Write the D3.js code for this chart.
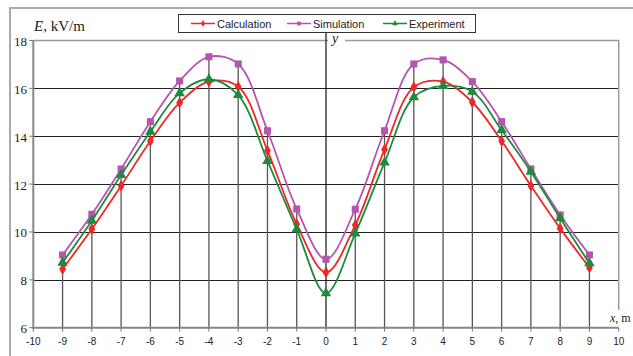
<!DOCTYPE html>
<html>
<head>
<meta charset="utf-8">
<script src="https://cdn.jsdelivr.net/npm/d3@7"></script>
<style>
  body { margin: 0; background: #fff; }
  svg { display: block; }
</style>
</head>
<body>
<div id="chart"></div>
<script>
var width = 633;
var height = 356;

// data
var xs = [-9, -8, -7, -6, -5, -4, -3, -2, -1, 0, 1, 2, 3, 4, 5, 6, 7, 8, 9];
var calculation = [8.45, 10.12, 11.93, 13.80, 15.40, 16.28, 16.07, 13.40, 10.33, 8.31, 10.29, 13.45, 16.05, 16.28, 15.42, 13.80, 11.93, 10.15, 8.51];
var simulation  = [9.04, 10.74, 12.63, 14.61, 16.31, 17.32, 17.02, 14.23, 10.96, 8.86, 10.95, 14.23, 17.02, 17.19, 16.28, 14.61, 12.63, 10.71, 9.04];
var experiment  = [8.72, 10.47, 12.38, 14.19, 15.80, 16.38, 15.72, 12.97, 10.11, 7.44, 9.94, 12.90, 15.63, 16.10, 15.86, 14.26, 12.52, 10.57, 8.69];
var xTicks = [-10, -9, -8, -7, -6, -5, -4, -3, -2, -1, 0, 1, 2, 3, 4, 5, 6, 7, 8, 9, 10];
var yTicks = [6, 8, 10, 12, 14, 16, 18];

var series = [
  {name: "Calculation", values: calculation, color: "#ee2828", symbol: d3.symbolDiamond, size: 40},
  {name: "Simulation", values: simulation, color: "#b455b2", symbol: d3.symbolSquare, size: 50},
  {name: "Experiment", values: experiment, color: "#1d8a3e", symbol: d3.symbolTriangle, size: 48}
];

var svg = d3.select("#chart")
            .append("svg")
            .attr("width", width)
            .attr("height", height);

// outer frame
svg.append("path")
   .attr("d", "M10," + height + "V8H" + width)
   .attr("fill", "none")
   .attr("stroke", "#aaa")
   .attr("stroke-width", 2);

var x = d3.scaleLinear()
          .domain([-10, 10])
          .range([33.3, 618.7]);

var y = d3.scaleLinear()
          .domain([6, 18])
          .range([327.7, 40.5]);

// horizontal grid
svg.selectAll(".hgrid")
   .data(yTicks.filter(function(d) { return d > 6 && d < 18; }))
   .enter()
   .append("line")
   .attr("x1", x(-10)).attr("x2", x(10))
   .attr("y1", function(d) { return Math.round(y(d)) + 0.5; })
   .attr("y2", function(d) { return Math.round(y(d)) + 0.5; })
   .attr("stroke", "#222")
   .attr("stroke-width", 1);

// top and right border
svg.append("path")
   .attr("d", "M" + x(-10) + "," + y(18) + "H" + x(10) + "V310")
   .attr("fill", "none")
   .attr("stroke", "#999")
   .attr("stroke-width", 1.5);

// drop lines from the highest point at each x
svg.selectAll(".drop")
   .data(xs.filter(function(d) { return d !== 0; }))
   .enter()
   .append("line")
   .attr("x1", function(d) { return x(d); })
   .attr("x2", function(d) { return x(d); })
   .attr("y1", function(d) {
     var k = xs.indexOf(d);
     return y(Math.max(calculation[k], simulation[k], experiment[k]));
   })
   .attr("y2", y(6))
   .attr("stroke", "#555")
   .attr("stroke-width", 1.3);

// y axis through x = 0
svg.append("line")
   .attr("x1", x(0)).attr("x2", x(0))
   .attr("y1", 33).attr("y2", y(6))
   .attr("stroke", "#111")
   .attr("stroke-width", 1.2);

// left and bottom axes
svg.append("path")
   .attr("d", "M" + x(-10) + "," + y(18) + "V" + y(6) + "H" + x(10))
   .attr("fill", "none")
   .attr("stroke", "#888")
   .attr("stroke-width", 2);

// ticks
svg.selectAll(".xtick")
   .data(xTicks)
   .enter()
   .append("line")
   .attr("x1", function(d) { return x(d); })
   .attr("x2", function(d) { return x(d); })
   .attr("y1", y(6)).attr("y2", y(6) + 4)
   .attr("stroke", "#777");

svg.selectAll(".ytick")
   .data(yTicks)
   .enter()
   .append("line")
   .attr("x1", x(-10) - 4).attr("x2", x(-10))
   .attr("y1", function(d) { return y(d); })
   .attr("y2", function(d) { return y(d); })
   .attr("stroke", "#777");

svg.selectAll(".xlab")
   .data(xTicks)
   .enter()
   .append("text")
   .attr("x", function(d) { return x(d); })
   .attr("y", 345)
   .attr("text-anchor", "middle")
   .attr("font-family", "Liberation Sans, Arial, sans-serif")
   .attr("font-size", 10)
   .attr("fill", "#222")
   .text(function(d) { return d; });

svg.selectAll(".ylab")
   .data(yTicks)
   .enter()
   .append("text")
   .attr("x", 27)
   .attr("y", function(d) { return y(d) + 5.5; })
   .attr("text-anchor", "end")
   .attr("font-family", "Liberation Serif, Times New Roman, serif")
   .attr("font-size", 13)
   .attr("fill", "#222")
   .text(function(d) { return d; });

// axis titles
var eLabel = svg.append("text")
   .attr("x", 34).attr("y", 30.5)
   .attr("font-family", "Liberation Serif, Times New Roman, serif")
   .attr("font-size", 15)
   .attr("fill", "#222");
eLabel.append("tspan").attr("font-style", "italic").text("E");
eLabel.append("tspan").text(", kV/m");

svg.append("rect")
   .attr("x", 328).attr("y", 33).attr("width", 17).attr("height", 14)
   .attr("fill", "#fff");
svg.append("text")
   .attr("x", 332).attr("y", 43)
   .attr("font-family", "Liberation Serif, Times New Roman, serif")
   .attr("font-style", "italic")
   .attr("font-size", 14)
   .attr("fill", "#222")
   .text("y");

var xLabel = svg.append("text")
   .attr("x", 610).attr("y", 322)
   .attr("font-family", "Liberation Serif, Times New Roman, serif")
   .attr("font-size", 12)
   .attr("fill", "#222");
xLabel.append("tspan").attr("font-style", "italic").text("x");
xLabel.append("tspan").text(", m");

// series
var line = d3.line()
             .x(function(d) { return x(d[0]); })
             .y(function(d) { return y(d[1]); })
             .curve(d3.curveCatmullRom.alpha(0.5));

series.forEach(function(s) {
  var pts = xs.map(function(v, i) { return [v, s.values[i]]; });
  svg.append("path")
     .attr("d", line(pts))
     .attr("fill", "none")
     .attr("stroke", s.color)
     .attr("stroke-width", 1.8);
  svg.selectAll(null)
     .data(pts)
     .enter()
     .append("path")
     .attr("transform", function(d) { return "translate(" + x(d[0]) + "," + y(d[1]) + ")"; })
     .attr("d", d3.symbol().type(s.symbol).size(s.size))
     .attr("fill", s.color);
});

// legend
var legend = svg.append("g");
legend.append("rect")
      .attr("x", 178.5).attr("y", 14.5).attr("width", 297).attr("height", 18)
      .attr("fill", "#fff")
      .attr("stroke", "#333");

var legendX = [191, 287, 383];
series.forEach(function(s, i) {
  var g = legend.append("g").attr("transform", "translate(" + legendX[i] + ",23.5)");
  g.append("line").attr("x1", 0).attr("x2", 24).attr("stroke", s.color).attr("stroke-width", 1.5);
  g.append("path").attr("transform", "translate(12,0)")
   .attr("d", d3.symbol().type(s.symbol).size(14)).attr("fill", s.color);
  g.append("text")
   .attr("x", 26).attr("y", 4)
   .attr("font-family", "Liberation Sans, Arial, sans-serif")
   .attr("font-size", 11)
   .attr("fill", "#222")
   .text(s.name);
});
</script>
</body>
</html>
